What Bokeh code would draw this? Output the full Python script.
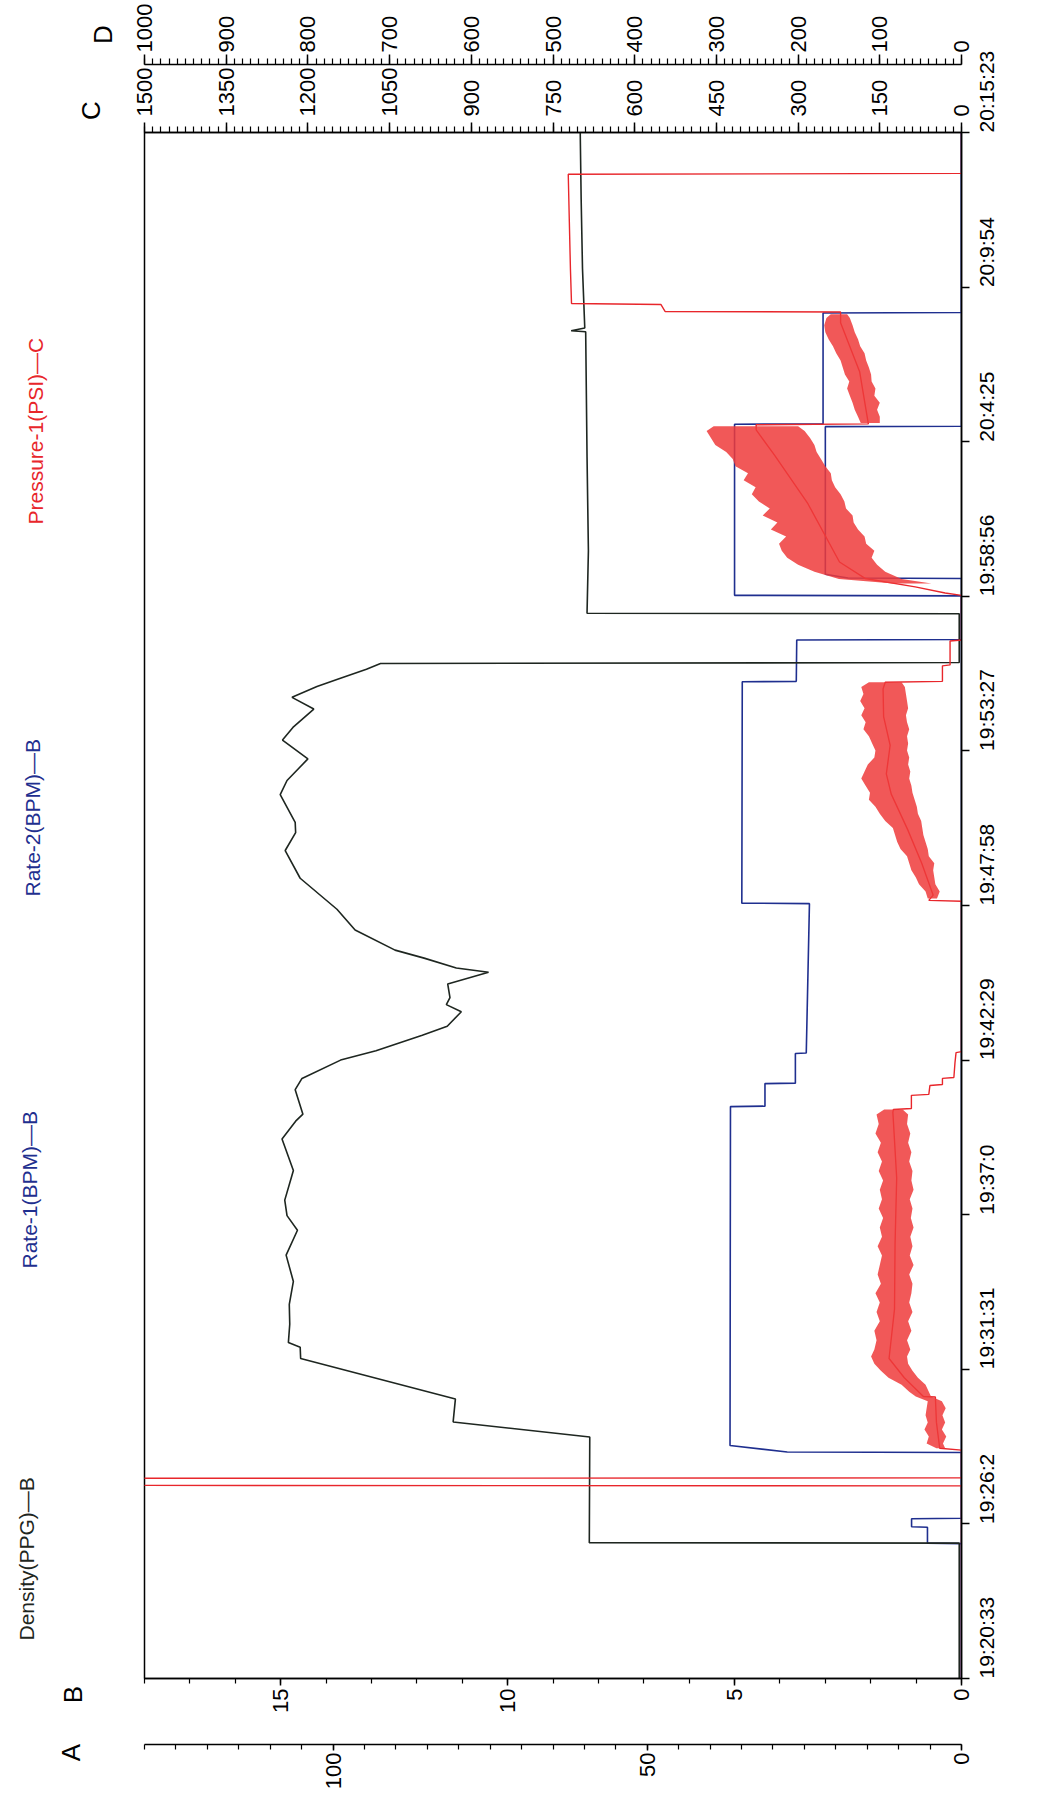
import math
from bokeh.plotting import figure
from bokeh.layouts import row
from bokeh.models import Range1d, LinearAxis, FixedTicker
from bokeh.core.properties import value
from bokeh.embed import file_html
from bokeh.resources import INLINE

# ---------------- data ----------------
time_ticks_s = [0, 329, 658, 987, 1316, 1645, 1974, 2303, 2632, 2961, 3290]
time_labels = ["19:20:33", "19:26:2", "19:31:31", "19:37:0", "19:42:29", "19:47:58",
               "19:53:27", "19:58:56", "20:4:25", "20:9:54", "20:15:23"]

legend_names = ["Density(PPG)\u2014B", "Rate-1(BPM)\u2014B", "Rate-2(BPM)\u2014B", "Pressure-1(PSI)\u2014C"]
axis_letters = ["A", "B", "C", "D"]

# seconds after 19:20:33
density_t = [0, 288, 289, 514, 546, 595, 681, 705, 715, 754, 796, 845, 901, 954, 985, 1018,
             1071, 1081, 1148, 1186, 1201, 1253, 1277, 1316, 1336, 1369, 1388, 1419, 1434, 1449,
             1478, 1503, 1512, 1533, 1550, 1593, 1637, 1703, 1762, 1800, 1822, 1881, 1911, 1957,
             1997, 2024, 2063, 2088, 2111, 2127, 2148, 2160, 2162, 2266, 2267, 2400, 2600, 2866,
             2868, 2874, 3000, 3150, 3290]
density_ppg = [0.05, 0.05, 8.2, 8.19, 11.2, 11.15, 14.56, 14.57, 14.83, 14.80, 14.81, 14.72, 14.88,
               14.63, 14.86, 14.91, 14.75, 14.72, 14.97, 14.67, 14.51, 14.68, 14.53, 13.68, 12.90,
               11.88, 11.33, 11.02, 11.35, 11.27, 11.32, 10.42, 11.13, 11.84, 12.48, 13.36, 13.76,
               14.57, 14.90, 14.67, 14.68, 15.01, 14.86, 14.40, 14.96, 14.73, 14.27, 14.75, 14.20,
               13.73, 13.11, 12.80, 0.05, 0.05, 8.25, 8.22, 8.25, 8.28, 8.6, 8.3, 8.35, 8.38, 8.4]

rate1_t = [0, 287, 288, 322, 323, 340, 341, 481, 482, 496, 1217, 1218, 1266, 1267, 1330, 1331,
           1649, 1650, 2121, 2122, 2210, 2211, 2304, 2305, 2669, 2670, 2906, 2907, 3290]
rate1_bpm = [0, 0, 0.75, 0.75, 1.1, 1.1, 0, 0, 3.84, 5.1, 5.09, 4.33, 4.33, 3.66, 3.66, 3.42,
             3.35, 4.84, 4.83, 3.64, 3.63, 0, 0, 5.0, 5.0, 3.05, 3.05, 0, 0]

rate2_t = [0, 2341, 2342, 2350, 2664, 2665, 3290]
rate2_bpm = [0, 0, 2.5, 3.0, 3.0, 0, 0]

pressure_t = [0, 410, 411, 426, 427, 486, 490, 545, 599, 600, 640, 681, 786, 924, 1065, 1205,
              1211, 1213, 1241, 1243, 1262, 1264, 1277, 1279, 1310, 1332, 1334, 1654, 1656, 1667,
              1735, 1807, 1882, 1925, 1986, 2047, 2106, 2120, 2122, 2155, 2157, 2208, 2210, 2305,
              2310, 2323, 2341, 2376, 2500, 2603, 2657, 2668, 2670, 2781, 2885, 2908, 2909, 2924,
              2926, 3000, 3100, 3201, 3203, 3290]
pressure_psi = [0, 0, 1600, 1600, 0, 0, 40, 46, 48, 70, 105, 133, 123, 122, 119, 126,
                125, 92, 92, 60, 58, 35, 35, 14, 12, 10, 0, 0, 60, 52,
                73, 99, 129, 138, 131, 143, 144, 140, 35, 35, 21, 21, 0, 0,
                30, 85, 177, 224, 282, 343, 377, 377, 171, 187, 222, 222, 544, 552,
                716, 718, 720, 722, 0, 0]

# noisy pressure bands: low / high envelopes
band1_t = [490, 500, 515, 530, 545, 560, 575, 590, 600, 610, 625, 640, 655, 670, 685, 700, 720,
           740, 760, 780, 800, 820, 840, 860, 880, 900, 920, 940, 960, 980, 1000, 1020, 1040,
           1060, 1080, 1100, 1120, 1140, 1160, 1180, 1200, 1211]
band1_lo = [30, 34, 28, 36, 30, 35, 29, 36, 56, 60, 66, 80, 90, 98, 100, 94, 100, 92, 98, 90,
            96, 92, 90, 96, 88, 95, 90, 94, 88, 93, 90, 95, 88, 92, 90, 96, 92, 98, 94, 100,
            98, 108]
band1_hi = [46, 64, 60, 68, 62, 66, 64, 62, 84, 96, 110, 134, 148, 160, 166, 160, 156, 160, 150,
            156, 150, 158, 148, 154, 150, 146, 154, 146, 150, 144, 152, 146, 150, 144, 152, 146,
            154, 148, 158, 152, 156, 142]

band2_t = [1660, 1675, 1690, 1705, 1720, 1735, 1750, 1765, 1780, 1795, 1810, 1825, 1840, 1855,
           1870, 1885, 1900, 1915, 1930, 1945, 1960, 1975, 1990, 2005, 2020, 2035, 2050, 2065,
           2080, 2095, 2110, 2120]
band2_lo = [45, 40, 48, 50, 52, 50, 60, 62, 66, 70, 72, 74, 80, 82, 86, 90, 92, 96, 94, 98, 96,
            100, 98, 100, 96, 100, 102, 98, 100, 102, 104, 110]
band2_hi = [62, 66, 78, 84, 92, 96, 100, 112, 118, 122, 126, 140, 150, 158, 170, 168, 176, 184,
            178, 172, 160, 158, 164, 170, 180, 176, 184, 178, 186, 180, 184, 170]

band3_t = [2330, 2340, 2355, 2370, 2385, 2400, 2415, 2430, 2445, 2460, 2475, 2490, 2505, 2520,
           2535, 2550, 2565, 2580, 2595, 2610, 2625, 2640, 2655, 2665]
band3_lo = [55, 110, 140, 155, 165, 160, 175, 178, 190, 198, 200, 212, 215, 222, 232, 238, 240,
            250, 258, 266, 270, 278, 288, 300]
band3_hi = [125, 225, 270, 300, 320, 330, 335, 322, 350, 338, 365, 352, 372, 385, 378, 400, 392,
            415, 420, 432, 452, 460, 468, 455]

band4_t = [2672, 2685, 2700, 2715, 2730, 2745, 2760, 2775, 2790, 2805, 2820, 2835, 2850, 2865,
           2880, 2895, 2903]
band4_lo = [150, 150, 155, 150, 160, 158, 165, 166, 170, 175, 178, 186, 190, 196, 200, 205, 210]
band4_hi = [185, 190, 196, 200, 205, 210, 206, 214, 218, 222, 230, 236, 244, 250, 252, 248, 240]

# ---------------- styling / layout ----------------
FONT = "Liberation Sans Narrow, Liberation Sans, sans-serif"
RED = "#e8262b"
BLUE = "#1f2f8f"
DARK = "#1e2620"

H = 1792
LEFT_W = 120                 # text strip on the left (page x 8..128)
MAIN_W = 909
BL, BR, BT, BB = 24, 68, 132, 110
B_MAX, T_MAX = 18.0, 3290.0

# ---- left strip holding the series names and axis letters (page pixel coords) ----
pl = figure(width=LEFT_W, height=H, output_backend="svg", toolbar_location=None,
            x_range=Range1d(8, 8 + LEFT_W), y_range=Range1d(8 + H, 8),
            x_axis_location=None, y_axis_location=None,
            min_border_left=0, min_border_right=0, min_border_top=0, min_border_bottom=0)
pl.frame_align = False
pl.outline_line_color = None
pl.grid.visible = False
pl.background_fill_color = "white"
pl.border_fill_color = "white"

legend_colors = [DARK, BLUE, BLUE, RED]
legend_x = [34, 37, 40, 43]
legend_start_y = [1648, 1276, 904, 532]
pl.text(x=legend_x, y=legend_start_y, text=legend_names, text_color=legend_colors,
        angle=math.pi / 2, text_align="left", text_baseline="middle",
        text_font=value(FONT), text_font_size=value("21px"))

letter_x = [78, 80, 98, 110]
letter_y = [1760, 1702, 118, 42]
pl.text(x=letter_x, y=letter_y, text=axis_letters, text_color="black",
        angle=math.pi / 2, text_align="center", text_baseline="middle",
        text_font=value(FONT), text_font_size=value("26px"))

# ---- main chart ----
p = figure(width=MAIN_W, height=H, output_backend="svg", toolbar_location=None,
           x_range=Range1d(B_MAX, 0), y_range=Range1d(0, T_MAX),
           x_axis_location=None, y_axis_location=None,
           min_border_left=BL, min_border_right=BR, min_border_top=BT, min_border_bottom=BB)
p.frame_align = False
p.extra_x_ranges = {"A": Range1d(130, 0), "C": Range1d(1500, 0), "D": Range1d(1000, 0)}
p.outline_line_color = "black"
p.outline_line_width = 1.5
p.background_fill_color = "white"
p.border_fill_color = "white"
p.grid.visible = False


def style_axis(ax, tick_out, minor_out, standoff, size="22px"):
    ax.major_label_orientation = math.pi / 2
    ax.major_label_text_font = FONT
    ax.major_label_text_font_size = size
    ax.major_label_text_color = "black"
    ax.major_tick_out = tick_out
    ax.major_tick_in = 0
    ax.minor_tick_out = minor_out
    ax.minor_tick_in = 0
    ax.major_label_standoff = standoff
    ax.axis_line_color = "black"
    ax.axis_line_width = 1.5
    ax.major_tick_line_width = 1.5
    ax.minor_tick_line_width = 1.2
    ax.major_tick_line_color = "black"
    ax.minor_tick_line_color = "black"


# B axis (bottom, nearest frame)
axB = LinearAxis(ticker=FixedTicker(ticks=[0, 5, 10, 15], minor_ticks=list(range(0, 19))))
style_axis(axB, 7, 5, 3)
axB.axis_label = " "
axB.axis_label_standoff = 6
axB.axis_label_text_font_size = "18px"
p.add_layout(axB, "below")

# A axis (bottom, outer)
axA = LinearAxis(x_range_name="A",
                 ticker=FixedTicker(ticks=[0, 50, 100], minor_ticks=list(range(0, 131, 5))))
style_axis(axA, 6, 5, 2)
p.add_layout(axA, "below")

# C axis (top, nearest frame)
axC = LinearAxis(x_range_name="C",
                 ticker=FixedTicker(ticks=list(range(0, 1501, 150)), minor_ticks=list(range(0, 1501, 15))))
style_axis(axC, 10, 6, 6)
p.add_layout(axC, "above")

# D axis (top, outer)
axD = LinearAxis(x_range_name="D",
                 ticker=FixedTicker(ticks=list(range(0, 1001, 100)), minor_ticks=list(range(0, 1001, 10))))
style_axis(axD, 10, 6, 2)
p.add_layout(axD, "above")

# time axis (right)
axT = LinearAxis(ticker=FixedTicker(ticks=time_ticks_s))
style_axis(axT, 8, 0, 17, "21px")
axT.minor_tick_line_color = None
axT.major_label_overrides = {tk: lab for tk, lab in zip(time_ticks_s, time_labels)}
p.add_layout(axT, "right")

# ---------------- traces ----------------
p.line(rate1_bpm, rate1_t, line_color=BLUE, line_width=1.6)
p.line(rate2_bpm, rate2_t, line_color=BLUE, line_width=1.6)
p.line(density_ppg, density_t, line_color=DARK, line_width=1.6)
p.line(pressure_psi, pressure_t, x_range_name="C", line_color=RED, line_width=1.4)
for bt, blo, bhi in [(band1_t, band1_lo, band1_hi), (band2_t, band2_lo, band2_hi),
                     (band3_t, band3_lo, band3_hi), (band4_t, band4_lo, band4_hi)]:
    p.harea(x1=blo, x2=bhi, y=bt, x_range_name="C", fill_color="#ef3b3b", fill_alpha=0.85)

layout = row(pl, p)
open("out.html", "w").write(file_html(layout, INLINE))
